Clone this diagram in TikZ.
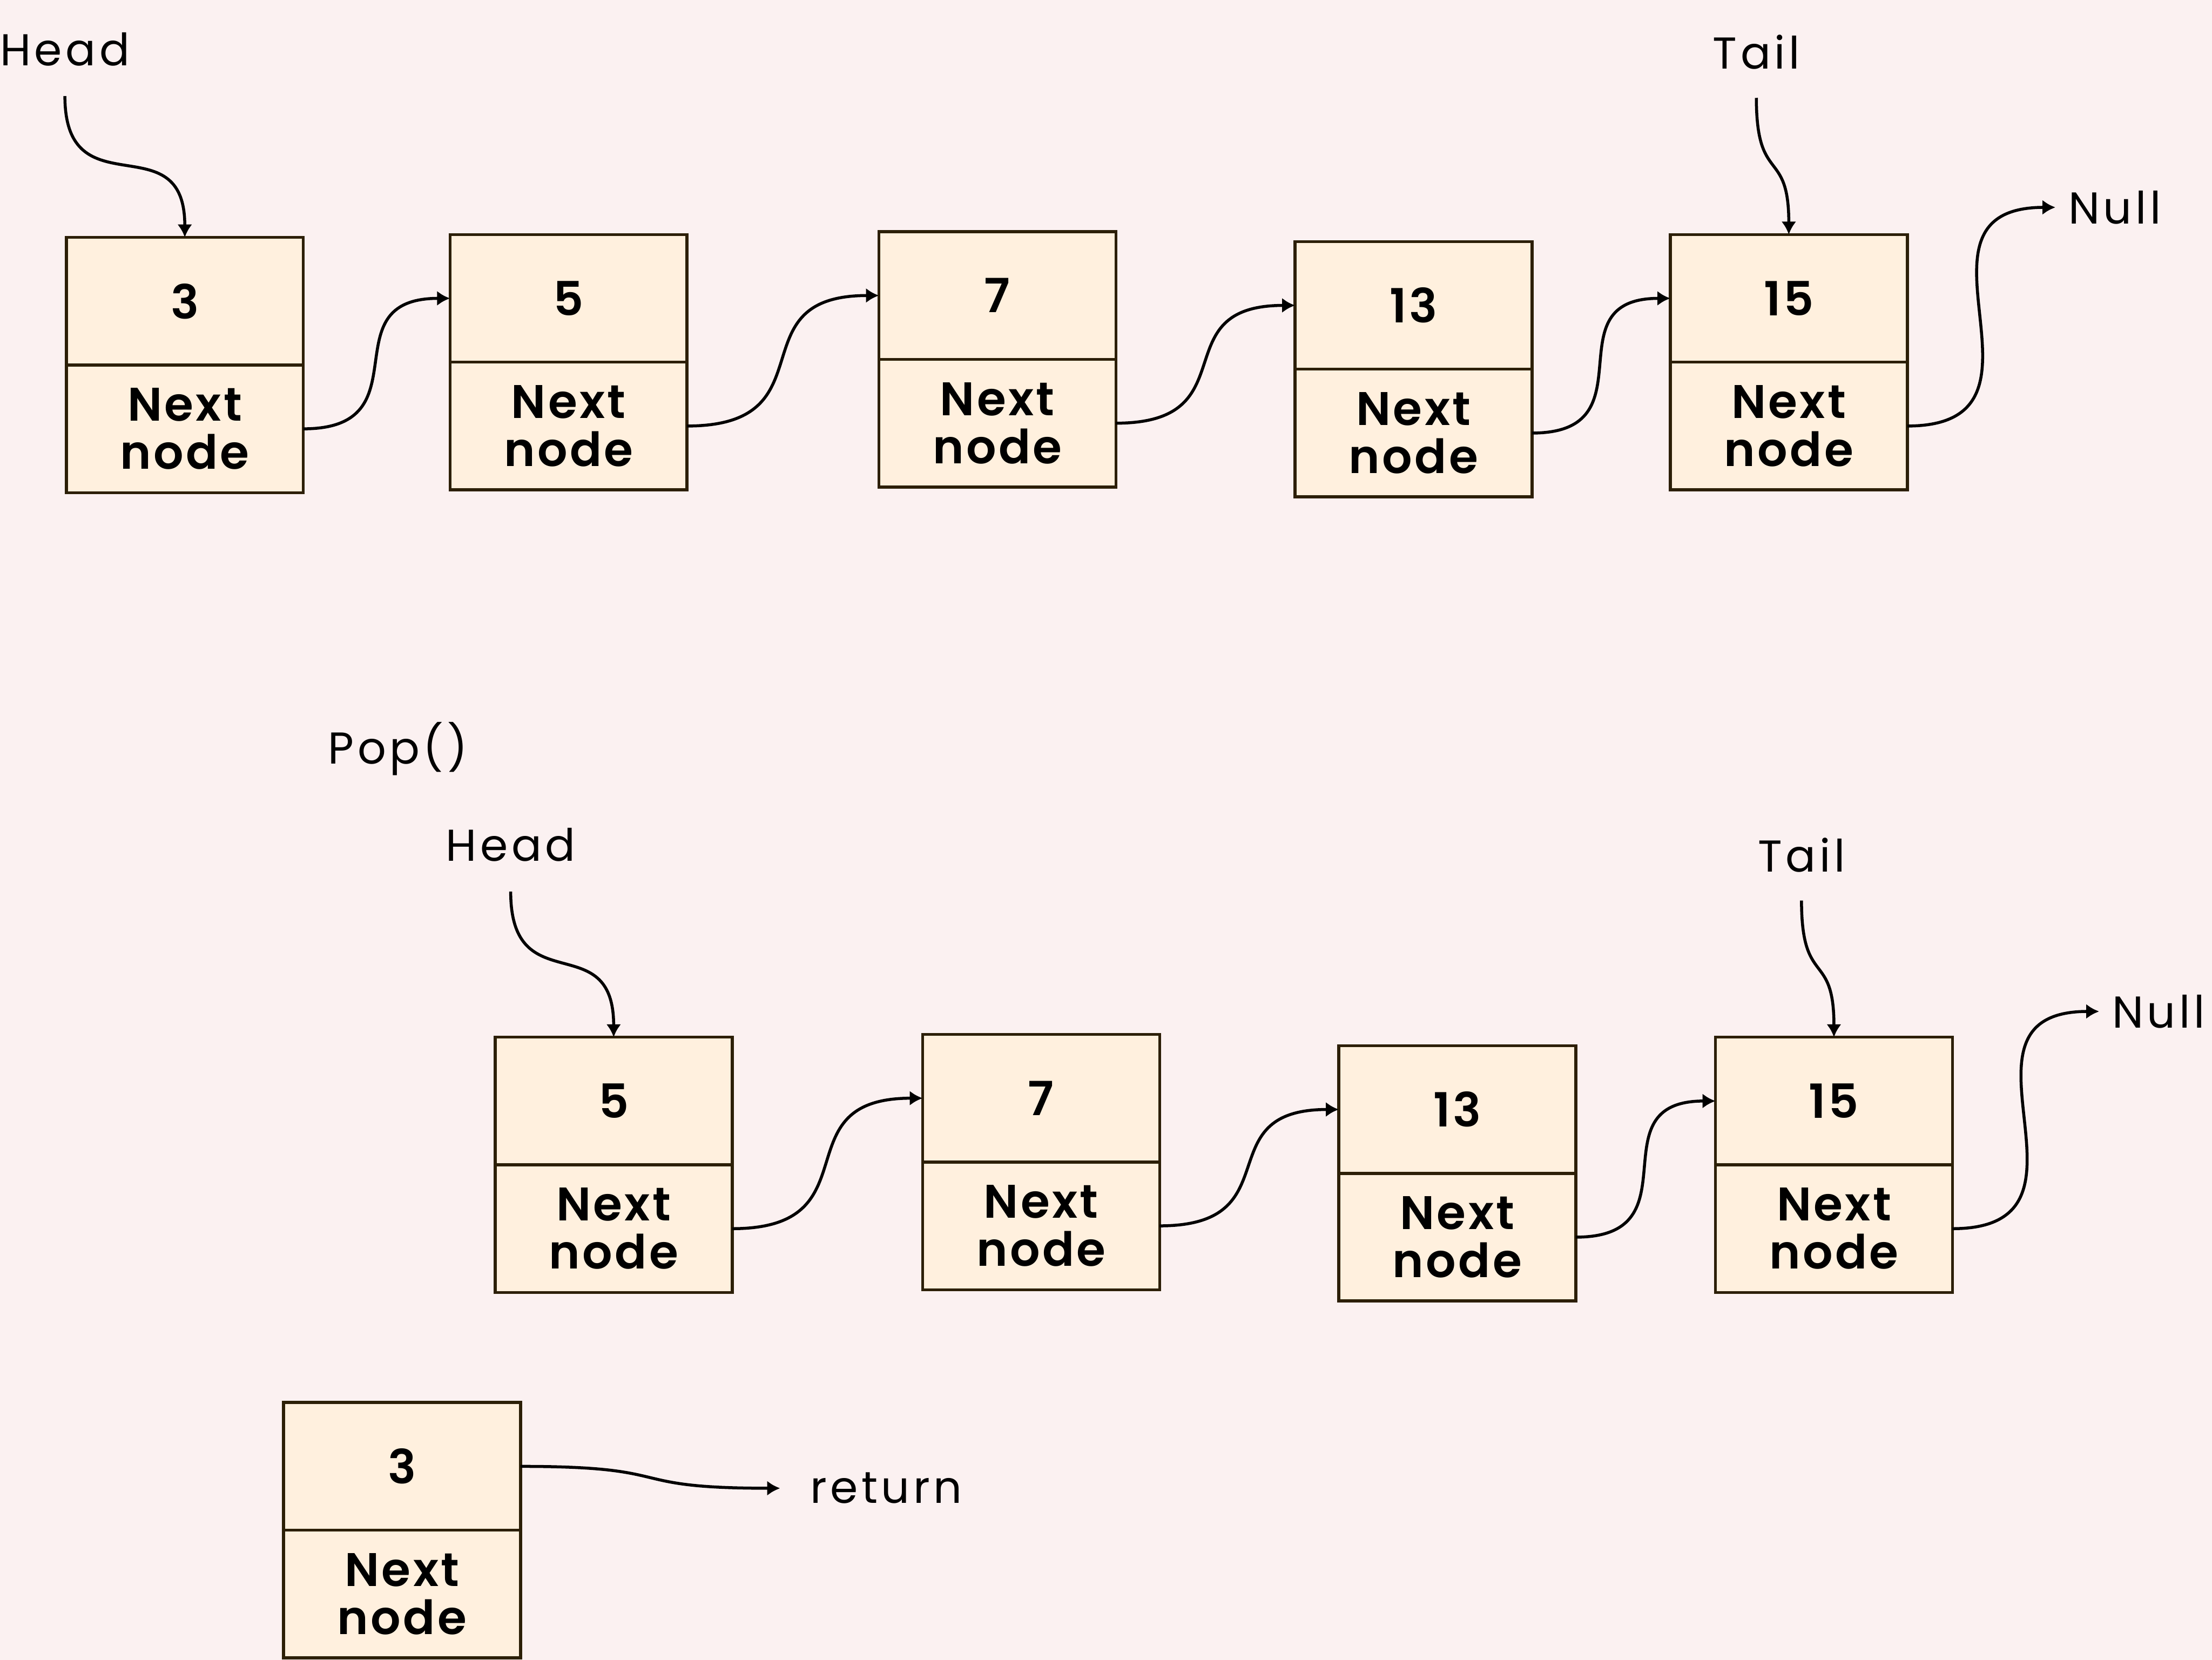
\documentclass[tikz,border=0pt]{standalone}
\usepackage{fontspec}
\setmainfont{Poppins}[BoldFont={Poppins SemiBold}]
\usepackage{tikz}
\usetikzlibrary{positioning,arrows.meta}
\definecolor{bgpink}{HTML}{FBF1F1}
\definecolor{cellfill}{HTML}{FFF0DE}
\definecolor{cellline}{HTML}{2C1F07}

\begin{document}
\begin{tikzpicture}[
    cell/.style={draw=cellline, fill=cellfill, line width=0.6pt, outer sep=0pt, inner sep=0pt, minimum width=1.68cm, minimum height=0.905cm, align=center, font=\fontsize{9.5}{9.7}\selectfont\bfseries\addfontfeatures{LetterSpace=5}},
    lbl/.style={font=\fontsize{9}{10}\selectfont\addfontfeatures{LetterSpace=8}, inner sep=1pt},
    arrow/.style={-{Latex[length=2.6pt,width=3pt]}, line width=0.6pt, looseness=1.6}
]

% Background
\fill[bgpink] (0,0) rectangle (15.68,-11.767);
\useasboundingbox (0,0) rectangle (15.68,-11.767);

% Full list
\node[cell] (v3) at (1.31,-2.135) {3};
\node[cell, below=0pt of v3] (n3) {Next\\node};
\node[cell] (v5) at (4.03,-2.115) {5};
\node[cell, below=0pt of v5] (n5) {Next\\node};
\node[cell] (v7) at (7.07,-2.095) {7};
\node[cell, below=0pt of v7] (n7) {Next\\node};
\node[cell] (v13) at (10.02,-2.165) {13};
\node[cell, below=0pt of v13] (n13) {Next\\node};
\node[cell] (v15) at (12.68,-2.115) {15};
\node[cell, below=0pt of v15] (n15) {Next\\node};

\node[lbl] (head) at (0.46,-0.35) {Head};
\node[lbl] (tail) at (12.45,-0.37) {Tail};
\node[lbl, anchor=west] (null) at (14.62,-1.47) {Null};

\draw[arrow] ([yshift=-0.17cm]head.south) to[out=-90,in=90] (v3.north);
\draw[arrow] ([yshift=-0.16cm]tail.south) to[out=-90,in=90] (v15.north);
\draw[arrow] (n3.east) to[out=0,in=180] (v5.west);
\draw[arrow] (n5.east) to[out=0,in=180] (v7.west);
\draw[arrow] (n7.east) to[out=0,in=180] (v13.west);
\draw[arrow] (n13.east) to[out=0,in=180] (v15.west);
\draw[arrow] (n15.east) to[out=0,in=180] ([xshift=-0.05cm]null.west);

% After pop
\node[lbl] (pop) at (2.82,-5.31) {Pop()};

\node[cell] (w5) at (4.35,-7.805) {5};
\node[cell, below=0pt of w5] (m5) {Next\\node};
\node[cell] (w7) at (7.38,-7.785) {7};
\node[cell, below=0pt of w7] (m7) {Next\\node};
\node[cell] (w13) at (10.33,-7.865) {13};
\node[cell, below=0pt of w13] (m13) {Next\\node};
\node[cell] (w15) at (13.00,-7.805) {15};
\node[cell, below=0pt of w15] (m15) {Next\\node};

\node[lbl] (head2) at (3.62,-5.99) {Head};
\node[lbl] (tail2) at (12.77,-6.06) {Tail};
\node[lbl, anchor=west] (null2) at (14.93,-7.17) {Null};

\draw[arrow] ([yshift=-0.17cm]head2.south) to[out=-90,in=90] (w5.north);
\draw[arrow] ([yshift=-0.16cm]tail2.south) to[out=-90,in=90] (w15.north);
\draw[arrow] (m5.east) to[out=0,in=180] (w7.west);
\draw[arrow] (m7.east) to[out=0,in=180] (w13.west);
\draw[arrow] (m13.east) to[out=0,in=180] (w15.west);
\draw[arrow] (m15.east) to[out=0,in=180] ([xshift=-0.05cm]null2.west);

% Popped node
\node[cell] (p3) at (2.85,-10.395) {3};
\node[cell, below=0pt of p3] (q3) {Next\\node};
\node[lbl, anchor=west] (ret) at (5.70,-10.55) {return};

\draw[arrow] (p3.east) to[out=0,in=180] ([xshift=-0.17cm]ret.west);

\end{tikzpicture}
\end{document}
